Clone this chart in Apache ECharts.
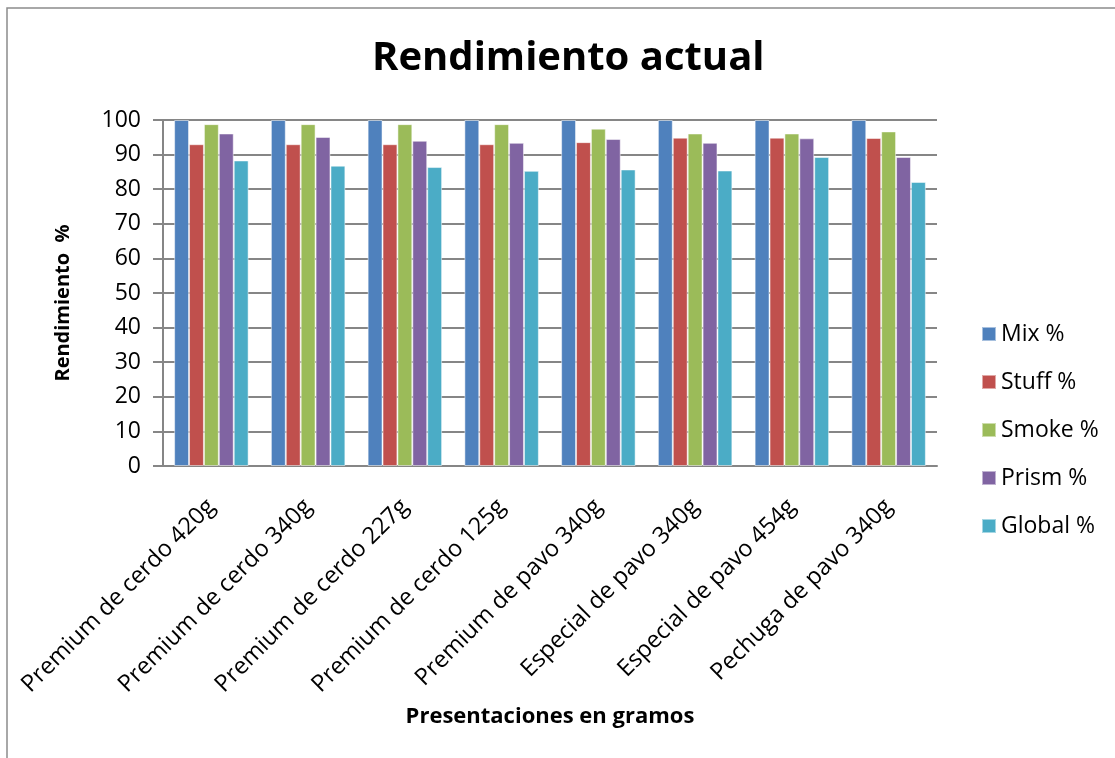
<!DOCTYPE html>
<html><head><meta charset="utf-8">
<script src="https://cdn.jsdelivr.net/npm/echarts@6/dist/echarts.min.js"></script>
<style>html,body{margin:0;padding:0;background:#fff}#c{width:1115px;height:758px}</style>
</head><body><div id="c"></div>
<script>
const categories = ["Premium de cerdo 420g","Premium de cerdo 340g","Premium de cerdo 227g","Premium de cerdo 125g","Premium de pavo 340g","Especial de pavo 340g","Especial de pavo 454g","Pechuga de pavo 340g"];
const seriesNames = ["Mix %","Stuff %","Smoke %","Prism %","Global %"];
const mix    = [100,100,100,100,100,100,100,100];
const stuff  = [93,93,93,93,93.6,94.9,94.9,94.8];
const smoke  = [98.8,98.8,98.8,98.8,97.5,96.1,96.1,96.7];
const prism  = [96.1,95.1,94.0,93.4,94.5,93.4,94.7,89.3];
const global = [88.3,86.8,86.4,85.3,85.7,85.4,89.3,82.1];
const yTicks = [0,10,20,30,40,50,60,70,80,90,100];
const colors = ["#4F81BD","#C0504D","#9BBB59","#8064A2","#4BACC6"];
const values = [mix,stuff,smoke,prism,global];
const FONT = "Open Sans";
const chart = echarts.init(document.getElementById('c'), null, {renderer:'canvas'});
chart.setOption({
  animation:false,
  backgroundColor:'#fff',
  textStyle:{fontFamily:FONT},
  title:{text:'Rendimiento actual',left:367,top:34,
    textStyle:{fontFamily:FONT,fontWeight:'bold',fontSize:40,color:'#000'}},
  graphic:[{type:'polyline',shape:{points:[[7,758],[7,8],[1115,8]]},style:{stroke:'#8c8c8c',lineWidth:1.5,fill:null}}],
  legend:{orient:'vertical',left:976,top:317,itemWidth:14,itemHeight:14,itemGap:24,
    icon:'rect',data:seriesNames,textStyle:{fontFamily:FONT,fontSize:23,lineHeight:24,color:'#000'}},
  grid:{left:163,right:178,top:120,bottom:292,containLabel:false},
  xAxis:{type:'category',data:categories,
    axisLine:{lineStyle:{color:'#868686',width:2}},
    axisTick:{show:false},
    axisLabel:{rotate:45,interval:0,fontSize:23.5,color:'#000',fontFamily:FONT,margin:37},
    name:'Presentaciones en gramos',nameLocation:'middle',nameGap:240,
    nameTextStyle:{fontFamily:FONT,fontWeight:'bold',fontSize:22,color:'#000'}},
  yAxis:{type:'value',min:0,max:100,interval:10,
    axisLine:{show:true,lineStyle:{color:'#868686',width:2}},
    axisTick:{show:true,length:10,lineStyle:{color:'#868686',width:2}},
    splitLine:{lineStyle:{color:'#868686',width:2}},
    axisLabel:{fontSize:23,color:'#000',fontFamily:FONT,margin:22,
      formatter:v=>yTicks.includes(v)?String(v):''},
    name:'Rendimiento  %',nameLocation:'middle',nameGap:90,nameRotate:90,
    nameTextStyle:{fontFamily:FONT,fontWeight:'bold',fontSize:20,color:'#000',padding:[0,20,0,0]}},
  series: seriesNames.map((n,i)=>({name:n,type:'bar',data:values[i],
    barGap:'0%',barCategoryGap:'23%',
    itemStyle:{color:colors[i],borderColor:'rgba(255,255,255,0.5)',borderWidth:1}}))
});
</script></body></html>
